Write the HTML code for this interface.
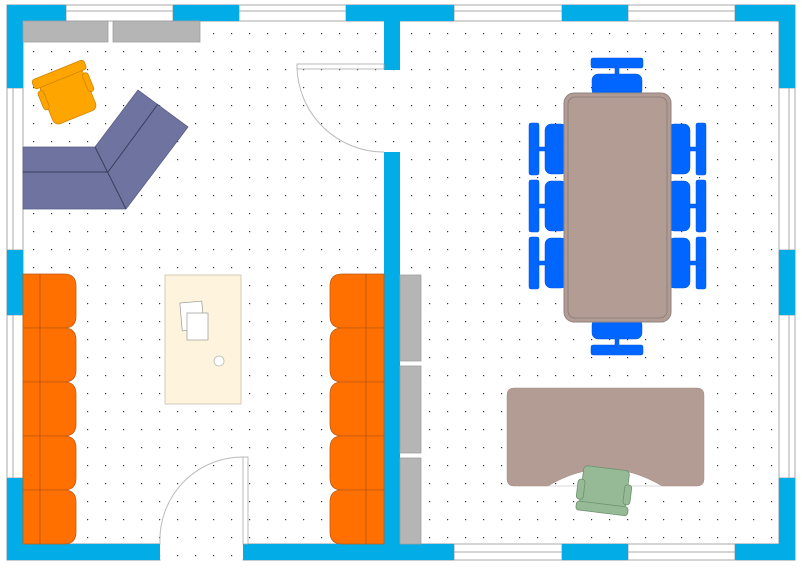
<!DOCTYPE html>
<html><head><style>
html,body{margin:0;padding:0;background:#fff;}
body{width:802px;height:565px;overflow:hidden;}
</style></head><body>
<svg width="802" height="565" viewBox="0 0 802 565" xmlns="http://www.w3.org/2000/svg">
<defs>
<pattern id="dots" x="0" y="0" width="18" height="18" patternUnits="userSpaceOnUse">
<rect x="15" y="15" width="1.2" height="1.2" fill="#333"/>
</pattern>
</defs>
<rect width="802" height="565" fill="#fff"/>
<rect width="802" height="565" fill="url(#dots)"/>
<!-- outer border lines -->
<rect x="7" y="5" width="788" height="555" fill="none" stroke="#8a9aa6" stroke-width="1"/>
<rect x="23" y="21" width="756" height="523" fill="none" stroke="#8a9aa6" stroke-width="1"/>
<rect x="160.5" y="542" width="82" height="20" fill="#fff"/>
<rect x="160.5" y="542" width="82" height="20" fill="url(#dots)"/>
<!-- windows -->
<g fill="#fff" stroke="#aaa" stroke-width="1">
<rect x="66" y="5" width="107" height="16"/><rect x="239" y="5" width="107" height="16"/>
<rect x="454" y="5" width="108" height="16"/><rect x="628" y="5" width="107" height="16"/>
<rect x="454" y="544" width="108" height="16"/><rect x="628" y="544" width="107" height="16"/>
<rect x="7" y="88" width="16" height="162"/><rect x="7" y="315" width="16" height="163"/>
<rect x="779" y="88" width="16" height="162"/><rect x="779" y="315" width="16" height="163"/>
</g>
<g stroke="#aaa" stroke-width="1">
<line x1="66" y1="11" x2="173" y2="11"/><line x1="239" y1="11" x2="346" y2="11"/>
<line x1="454" y1="11" x2="562" y2="11"/><line x1="628" y1="11" x2="735" y2="11"/>
<line x1="454" y1="552" x2="562" y2="552"/><line x1="628" y1="552" x2="735" y2="552"/>
<line x1="13" y1="88" x2="13" y2="250"/><line x1="13" y1="315" x2="13" y2="478"/>
<line x1="789" y1="88" x2="789" y2="250"/><line x1="789" y1="315" x2="789" y2="478"/>
</g>
<!-- walls -->
<g fill="#02ace6">
<rect x="7" y="5" width="59" height="16"/><rect x="173" y="5" width="66" height="16"/>
<rect x="346" y="5" width="108" height="16"/><rect x="562" y="5" width="66" height="16"/>
<rect x="735" y="5" width="60" height="16"/>
<rect x="7" y="5" width="16" height="83"/><rect x="7" y="250" width="16" height="65"/><rect x="7" y="478" width="16" height="82"/>
<rect x="779" y="5" width="16" height="83"/><rect x="779" y="250" width="16" height="65"/><rect x="779" y="478" width="16" height="82"/>
<rect x="7" y="544" width="153" height="16"/><rect x="243" y="544" width="211" height="16"/>
<rect x="562" y="544" width="66" height="16"/><rect x="735" y="544" width="60" height="16"/>
<rect x="384" y="5" width="16" height="65"/><rect x="384" y="152" width="16" height="392"/>
</g>
<!-- doors -->
<rect x="297" y="64" width="87" height="5" fill="#fff" stroke="#aaa" stroke-width="0.8"/>
<path d="M297 66 A87 87 0 0 0 384 152" fill="none" stroke="#bbb" stroke-width="1"/>
<rect x="243" y="457" width="5" height="87" fill="#fff" stroke="#aaa" stroke-width="0.8"/>
<path d="M160 544 A83 83 0 0 1 243 457" fill="none" stroke="#bbb" stroke-width="1"/>
<!-- shelves -->
<g fill="#b5b5b5" stroke="#a0a0a0" stroke-width="0.8">
<rect x="23" y="21" width="85" height="21"/><rect x="113" y="21" width="87" height="21"/>
<rect x="400" y="275" width="21" height="86"/><rect x="400" y="366" width="21" height="87"/><rect x="400" y="458" width="21" height="86"/>
</g>
<!-- sectional -->
<polygon points="23,147 95,147 138,90 188,127 126,209 23,209" fill="#6e73a0" stroke="#5a5e88" stroke-width="0.8"/>
<g stroke="#3a3d5e" stroke-width="1"><line x1="23" y1="172" x2="108" y2="172"/><line x1="95" y1="147" x2="126" y2="209"/><line x1="108" y1="172" x2="158" y2="104"/></g>
<!-- armchair -->
<g transform="translate(67,94) rotate(-22)">
<rect x="-23" y="-19" width="46" height="44" rx="6" fill="#ffa500" stroke="#d08400" stroke-width="0.8"/>
<rect x="-28" y="-26" width="56" height="10" rx="3" fill="#ffa500" stroke="#d08400" stroke-width="0.8"/>
<rect x="-27" y="-13" width="6" height="20" rx="3" fill="#ffa500" stroke="#d08400" stroke-width="0.8"/>
<rect x="21" y="-13" width="6" height="20" rx="3" fill="#ffa500" stroke="#d08400" stroke-width="0.8"/>
</g>
<!-- orange sofas -->
<g fill="#ff7000" stroke="#c05a10" stroke-width="0.8">
<path d="M23 274 H64 Q76 274 76 286 V316 Q76 328 64 328 H23 Z"/>
<path d="M23 328 H64 Q76 328 76 340 V370 Q76 382 64 382 H23 Z"/>
<path d="M23 382 H64 Q76 382 76 394 V424 Q76 436 64 436 H23 Z"/>
<path d="M23 436 H64 Q76 436 76 448 V478 Q76 490 64 490 H23 Z"/>
<path d="M23 490 H64 Q76 490 76 502 V532 Q76 544 64 544 H23 Z"/>
<path d="M384 274 H342 Q330 274 330 286 V316 Q330 328 342 328 H384 Z"/>
<path d="M384 328 H342 Q330 328 330 340 V370 Q330 382 342 382 H384 Z"/>
<path d="M384 382 H342 Q330 382 330 394 V424 Q330 436 342 436 H384 Z"/>
<path d="M384 436 H342 Q330 436 330 448 V478 Q330 490 342 490 H384 Z"/>
<path d="M384 490 H342 Q330 490 330 502 V532 Q330 544 342 544 H384 Z"/>
</g>
<g stroke="#b05010" stroke-width="0.8"><line x1="40" y1="274" x2="40" y2="544"/><line x1="366" y1="274" x2="366" y2="544"/></g>
<!-- coffee table -->
<rect x="165" y="275" width="76" height="129" fill="#fef3dc" stroke="#c8c0b0" stroke-width="0.8"/>
<rect x="181" y="302" width="22" height="28" fill="#fff" stroke="#999" stroke-width="0.7" transform="rotate(-5 192 316)"/>
<rect x="187" y="313" width="21" height="27" fill="#fff" stroke="#999" stroke-width="0.7"/>
<circle cx="219" cy="361" r="5" fill="#fff" stroke="#bbb" stroke-width="0.8"/>
<!-- dining chairs -->
<g fill="#0066ff" stroke="#0055dd" stroke-width="0.5">
<rect x="591" y="58" width="52" height="10" rx="2"/><rect x="615" y="67" width="4" height="8"/>
<rect x="592" y="74" width="50" height="22" rx="6"/>
<rect x="591" y="345" width="52" height="10" rx="2"/><rect x="615" y="338" width="4" height="8"/>
<rect x="592" y="319" width="50" height="20" rx="6"/>
<g id="lc">
<rect x="529" y="123" width="10" height="52" rx="2"/><rect x="538" y="147" width="8" height="4"/><rect x="545" y="124" width="22" height="50" rx="6"/>
</g>
<use href="#lc" y="57"/><use href="#lc" y="114"/>
<g id="rc">
<rect x="696" y="123" width="10" height="52" rx="2"/><rect x="689" y="147" width="8" height="4"/><rect x="668" y="124" width="22" height="50" rx="6"/>
</g>
<use href="#rc" y="57"/><use href="#rc" y="114"/>
</g>
<!-- dining table -->
<rect x="564" y="93" width="107" height="229" rx="10" fill="#b39c94" stroke="#8f8580" stroke-width="1"/>
<rect x="568" y="97" width="99" height="221" rx="7" fill="none" stroke="#857a76" stroke-width="0.8"/>
<!-- desk -->
<path d="M507 395 Q507 388 514 388 H697 Q704 388 704 395 V479 Q704 486 697 486 H662 Q605 452 548 486 H514 Q507 486 507 479 Z" fill="#b39c94" stroke="#a08a82" stroke-width="0.5"/>
<line x1="548" y1="486" x2="662" y2="486" stroke="#ccc" stroke-width="0.8"/>
<!-- desk chair -->
<g transform="translate(604,492) rotate(7)" fill="#96b996" stroke="#6d906d" stroke-width="0.8">
<rect x="-23" y="-24" width="46" height="40" rx="4"/>
<rect x="-26" y="12" width="52" height="9" rx="3"/>
<rect x="-27" y="-10" width="7" height="20" rx="3"/>
<rect x="20" y="-10" width="7" height="20" rx="3"/>
</g>
</svg>
</body></html>
